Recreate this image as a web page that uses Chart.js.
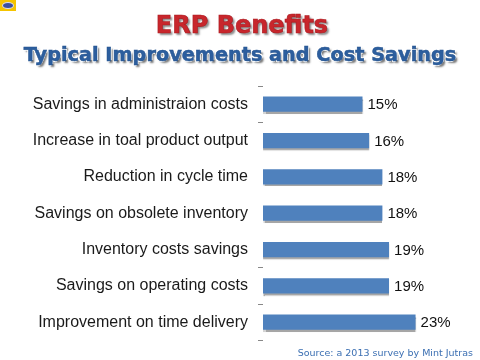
<!DOCTYPE html>
<html>
<head>
<meta charset="utf-8">
<script src="https://cdn.jsdelivr.net/npm/chart.js@4/dist/chart.umd.min.js"></script>
<style>
  html, body { margin: 0; padding: 0; background: #fff; }
  #wrap { position: relative; width: 480px; height: 360px; overflow: hidden; }
  #myChart { position: absolute; left: 0; top: 0; }
  .title {
    position: absolute; left: 0; width: 480px; text-align: center;
    font-family: "DejaVu Sans", Verdana, sans-serif; font-weight: bold; white-space: nowrap;
  }
  #t1 { top: 11px; left: 2px; font-size: 24px; color: #c8262c;
        -webkit-text-stroke: 0.6px #a81c22; text-shadow: 2px 2px 2px rgba(0,0,0,0.45); }
  #t2 { top: 43px; left: 0px; font-size: 19.3px; color: #2c5e9e; -webkit-text-stroke: 0.5px #24528c;
        text-shadow: -1px -1px 0 #fff, 1px -1px 0 #fff, -1px 1px 0 #fff, 2px 2px 2px rgba(0,0,0,0.55); }
  #source { position: absolute; right: 7px; top: 347px; font-family: "DejaVu Sans", Verdana, sans-serif;
            font-size: 9.5px; color: #3b6fb2; white-space: nowrap; }
  #logo { position: absolute; left: 0; top: 0; width: 16px; height: 11px; background: #f5c400; }
  #logo div { position: absolute; left: 2px; top: 2px; width: 12px; height: 7px; border-radius: 50%;
              background: #3b4fa0; border: 1px solid #dde; box-sizing: border-box; }
</style>
</head>
<body>
<div id="wrap">
  <canvas id="myChart" width="480" height="360"></canvas>
  <div id="logo"><div></div></div>
  <div class="title" id="t1">ERP Benefits</div>
  <div class="title" id="t2">Typical Improvements and Cost Savings</div>
  <div id="source">Source: a 2013 survey by Mint Jutras</div>
</div>
<script>
const categories = [
  "Savings in administraion costs",
  "Increase in toal product output",
  "Reduction in cycle time",
  "Savings on obsolete inventory",
  "Inventory costs savings",
  "Savings on operating costs",
  "Improvement on time delivery",
];
const percentages = [15, 16, 18, 18, 19, 19, 23];

const ctx = document.getElementById("myChart");

// gray drop shadow under the bars
const barShadow = {
  id: "barShadow",
  beforeDatasetsDraw(chart) {
    const c = chart.ctx;
    c.save();
    c.shadowColor = "rgba(0,0,0,0.35)";
    c.shadowOffsetX = 0;
    c.shadowOffsetY = 2;
    c.shadowBlur = 1;
  },
  afterDatasetsDraw(chart) {
    chart.ctx.restore();
  },
};

// percentage text right of each bar
const valueLabels = {
  id: "valueLabels",
  afterDatasetsDraw(chart) {
    const c = chart.ctx;
    const meta = chart.getDatasetMeta(0);
    c.save();
    c.font = "15px 'Liberation Sans', Arial, sans-serif";
    c.fillStyle = "#111";
    c.textAlign = "left";
    c.textBaseline = "middle";
    meta.data.forEach((bar, i) => {
      c.fillText(percentages[i] + "%", bar.x + 5, bar.y + 1);
    });
    c.restore();
  },
};

Chart.defaults.font.family = "'Liberation Sans', Arial, sans-serif";

new Chart(ctx, {
  type: "bar",
  data: {
    labels: categories,
    datasets: [
      {
        data: percentages,
        backgroundColor: "#4f81bd",
        borderWidth: 0,
        barPercentage: 0.42,
        categoryPercentage: 1,
      },
    ],
  },
  options: {
    indexAxis: "y",
    responsive: false,
    animation: false,
    layout: { padding: { top: 86, bottom: 14, right: 18, left: 0 } },
    plugins: {
      legend: { display: false },
      tooltip: { enabled: false },
    },
    scales: {
      x: {
        display: false,
        min: 0,
        max: 30,
      },
      y: {
        afterFit(scale) {
          scale.width = 263;
        },
        border: { display: false },
        grid: {
          drawOnChartArea: false,
          tickLength: 5,
          lineWidth: 1,
          color: (c) => ([2, 3, 4].includes(c.index) ? "rgba(0,0,0,0)" : "#888"),
        },
        ticks: {
          padding: 10,
          color: "#1a1a1a",
          font: { size: 16 },
        },
      },
    },
  },
  plugins: [barShadow, valueLabels],
});
</script>
</body>
</html>
